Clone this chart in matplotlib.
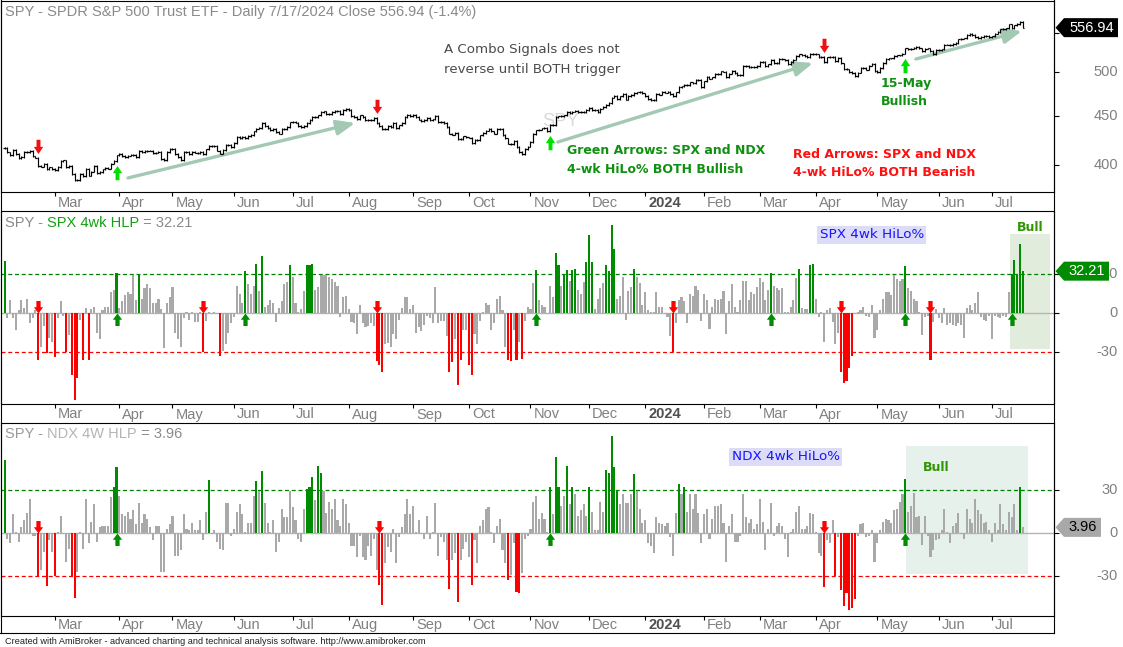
import numpy as np
import pandas as pd
import matplotlib
matplotlib.use("Agg")
import matplotlib.pyplot as plt
from matplotlib.path import Path
from matplotlib.markers import MarkerStyle
from matplotlib.collections import LineCollection
from matplotlib.patches import Polygon, Rectangle
from matplotlib.lines import Line2D
import matplotlib.transforms as mtransforms
from matplotlib.ticker import NullLocator, FixedLocator

plt.rcParams['font.family'] = ['Liberation Sans', 'DejaVu Sans']

W, H, DPI = 1123, 647, 100

# ---------------- data ----------------
nyse_holidays = ['2023-02-20', '2023-04-07', '2023-05-29', '2023-06-19', '2023-07-04',
                 '2023-09-04', '2023-11-23', '2023-12-25', '2024-01-01', '2024-01-15',
                 '2024-02-19', '2024-03-29', '2024-05-27', '2024-06-19', '2024-07-04']
dates = pd.bdate_range('2023-02-02', '2024-07-17', freq='C', holidays=nyse_holidays)

spy_close = [
    # Feb 2023
    416.78, 412.35, 409.83, 415.19, 410.65, 407.09, 408.04, 412.83, 412.64, 413.98,
    408.28, 407.26, 399.09, 398.54, 400.66, 396.38, 397.73, 396.26,
    # Mar 2023
    394.74, 397.81, 404.19, 404.47, 398.27, 398.92, 391.56, 385.91, 385.36, 391.73,
    389.28, 396.11, 389.99, 393.74, 398.91, 392.11, 393.17, 395.75, 397.52, 396.49,
    401.35, 403.70, 409.39,
    # Apr 2023
    410.95, 408.67, 407.60, 409.19, 409.61, 409.72, 408.05, 413.47, 412.46, 413.94,
    414.21, 414.14, 411.88, 412.20, 412.63, 406.08, 404.36, 412.41, 415.93,
    # May 2023
    415.51, 410.84, 408.02, 405.13, 412.63, 412.87, 410.93, 412.85, 412.13, 411.59,
    413.01, 410.62, 415.24, 419.23, 418.62, 418.79, 414.09, 411.09, 414.65, 420.02,
    420.18, 417.85,
    # Jun 2023
    421.82, 427.92, 427.10, 428.03, 426.55, 429.13, 429.90, 433.80, 436.66, 437.18,
    442.60, 439.46, 437.18, 434.94, 436.51, 433.21, 431.44, 436.17, 436.39, 438.11,
    443.28,
    # Jul 2023
    443.79, 443.13, 439.66, 438.55, 439.66, 442.46, 446.02, 449.56, 449.28, 450.84,
    454.19, 455.20, 452.18, 452.18, 454.20, 455.44, 455.51, 452.49, 456.92, 457.79,
    # Aug 2023
    456.48, 450.13, 448.84, 446.81, 450.71, 448.75, 445.75, 445.91, 445.65, 448.11,
    442.89, 439.64, 436.29, 436.50, 439.34, 438.15, 443.03, 436.89, 439.97, 442.76,
    449.16, 451.01, 450.35,
    # Sep 2023
    451.19, 449.24, 446.22, 444.85, 445.52, 448.45, 445.99, 446.51, 450.36, 443.37,
    443.63, 442.71, 438.64, 431.39, 430.42, 432.23, 425.88, 426.05, 428.52, 427.48,
    # Oct 2023
    427.31, 421.59, 424.66, 424.50, 429.54, 432.29, 434.54, 436.32, 433.66, 431.50,
    436.04, 436.02, 430.21, 426.43, 421.19, 420.46, 423.63, 417.55, 412.55, 410.68,
    415.59, 418.20,
    # Nov 2023
    422.66, 430.76, 434.69, 435.69, 436.93, 437.25, 433.84, 440.61, 440.19, 448.73,
    449.68, 450.23, 450.79, 454.26, 453.27, 455.02, 455.30, 454.48, 454.93, 454.61,
    456.40,
    # Dec 2023
    459.10, 456.69, 456.60, 454.76, 458.23, 460.20, 461.99, 464.10, 470.50, 472.01,
    469.33, 471.97, 474.84, 468.26, 472.70, 473.65, 475.65, 476.51, 476.69, 475.31,
    # Jan 2024
    472.65, 468.79, 467.28, 467.92, 474.60, 473.88, 476.56, 476.35, 476.68, 474.93,
    472.29, 476.49, 482.43, 483.45, 484.86, 485.39, 488.03, 487.41, 491.27, 490.89,
    482.88,
    # Feb 2024
    489.20, 494.35, 492.55, 493.98, 498.10, 498.32, 501.20, 500.98, 494.08, 498.57,
    502.01, 499.51, 496.76, 497.21, 507.50, 507.85, 505.99, 506.93, 506.26, 508.08,
    # Mar 2024
    512.85, 512.30, 507.18, 509.75, 514.81, 511.72, 511.28, 516.78, 515.97, 514.95,
    509.83, 512.86, 515.71, 520.48, 522.20, 521.21, 519.77, 518.81, 523.17, 523.07,
    # Apr 2024
    522.16, 518.84, 519.41, 513.07, 518.43, 518.72, 519.32, 514.12, 518.00, 510.85,
    504.45, 503.53, 500.55, 499.52, 495.16, 499.72, 505.65, 505.41, 503.49, 508.26,
    510.06, 501.98,
    # May 2024
    500.35, 505.03, 511.29, 516.78, 517.14, 517.19, 520.17, 520.84, 520.91, 523.30,
    529.78, 528.69, 529.45, 530.06, 531.36, 529.83, 525.96, 529.44, 529.81, 526.10,
    522.61, 527.37,
    # Jun 2024
    527.80, 528.39, 534.67, 534.66, 534.01, 535.66, 536.95, 541.36, 542.45, 542.78,
    547.10, 548.49, 547.00, 544.51, 542.74, 544.83, 545.51, 546.37, 544.22,
    # Jul 2024
    545.34, 549.01, 551.46, 554.64, 555.28, 555.82, 561.32, 556.48, 559.99, 561.53,
    564.86, 556.94,
]

spx_hlp = [
    40, -4, 10, -4, -13, 2, 10, 4, 11, -8,
    -4, 2, -36, -26, -10, -31, -19, -22, -34, -4,
    9, -2, -30, -17, -48, -67, -50, -5, -36, 4,
    -36, 3, 5, -15, -20, 2, 5, 5, 16, 18,
    31, 4, 9, 14, 16, 15, 29, 10, 30, 11,
    19, 22, 19, 8, 8, 11, 3, -27, 8, 12,
    20, -15, -20, -26, -4, 1, -5, 1, -7, -7,
    1, -30, -6, 1, -1, 1, -1, -33, -29, -24,
    -15, -8, -3, 21, 15, 8, 32, 22, 15, 21,
    38, 17, 44, 5, 6, 10, 8, -7, 4, 9,
    22, 24, 37, 28, 8, 1, 3, 17, 37, 37,
    38, 18, 20, 29, 29, 29, 28, 26, 24, 21,
    -3, 12, 13, 3, -7, -8, -16, 6, -8, -11,
    -10, -8, -10, -37, -40, -45, -24, -23, -26, -16,
    -20, -5, 4, 12, 12, 3, 6, -15, -11, -14,
    -9, -2, -4, -8, 20, -8, -6, -6, -18, -45,
    -38, -20, -55, -36, -13, -13, -40, -48, -16, -24,
    -6, 1, 8, 6, -13, -8, 11, 13, 2, -26,
    -36, -37, -13, -36, -22, -35, -6, 5, 3, 23,
    33, 10, 6, 5, -1, 21, 12, 46, 37, 21,
    30, 33, 25, 33, 34, 18, 15, 24, 39, 60,
    39, 3, 11, 19, 23, 37, 32, 68, 49, 11,
    13, 28, -5, 17, 20, 34, 28, 23, 6, 16,
    2, 1, 1, 16, 5, 5, -1, -3, -18, -30,
    -8, 10, 12, 9, -8, 15, 13, 21, 18, -6,
    15, 10, -12, 5, 11, 10, 11, 17, -16, 9,
    22, 5, 1, 10, 25, 25, 10, 16, 15, 20,
    27, 24, 10, 18, 31, 21, 19, 18, 19, 1,
    1, 5, 10, 27, 34, 4, 3, 3, 37, 38,
    11, -3, 1, -22, 2, 4, -7, -24, -15, -45,
    -54, -52, -42, -33, -1, 1, 2, 5, -2, -3,
    6, -19, -13, 2, 11, 16, 16, 14, 29, 26,
    25, 26, 36, 19, 17, 11, 9, 1, -17, -3,
    -2, -36, -7, 3, -4, -8, 4, -9, -8, -9,
    -10, -8, -9, -19, 4, 6, 2, 8, 16, -3,
    -5, -6, -2, -20, -2, -3, -4, -2, -3, 16,
    30, 41, 30, 53, 32.21,
]

ndx_hlp = [
    51, -4, -7, 13, 1, -6, 4, 9, 14, 24,
    -2, -2, -31, -26, -13, -37, -5, -13, -30, 1,
    12, -1, -20, -11, -30, -45, -27, 1, -11, 24,
    -7, 8, 20, -6, 4, 5, 5, 5, 25, 32,
    46, 26, 13, 12, 15, 10, 16, 6, 21, 7,
    13, 10, 4, -5, 5, 5, -27, -27, 3, 6,
    12, -16, -16, -12, 13, 3, 2, 7, 2, 2,
    9, -5, 15, 37, -1, 2, -6, -11, -12, 21,
    21, -2, 3, 15, 20, 13, 1, 7, 7, 26,
    36, 29, 43, 21, 7, 1, 9, -13, -6, 17,
    11, 11, 29, 18, 9, -4, -6, 17, 31, 32,
    39, 23, 47, 42, 29, 14, 22, 17, 24, 9,
    5, 24, 20, 7, -9, -9, -17, -2, -17, -19,
    -9, -16, -4, -26, -36, -50, -21, -10, -13, 3,
    -21, -3, 4, 13, 24, 13, 19, 1, 9, -1,
    -4, 12, -4, 1, 21, -16, -3, -6, -19, -39,
    -19, -14, -48, -19, -11, -6, -17, -36, -5, -21,
    5, 9, 17, 18, 1, -7, 5, 10, -12, -21,
    -33, -29, -7, -41, -42, -28, -4, -2, 3, 22,
    26, 10, 14, 10, 1, 32, 13, 53, 32, 19,
    26, 47, 20, 32, 27, 12, 16, 20, 12, 32,
    15, 2, 2, 22, 15, 44, 42, 68, 46, 30,
    20, 27, 21, 21, 27, 41, 29, 17, 7, 9,
    -7, -9, -14, 11, 7, 6, 5, 7, -3, -16,
    14, 34, 27, 32, 15, 27, 17, 27, 14, -7,
    13, 17, -4, 10, 19, 19, 20, 7, -20, 5,
    13, -6, -6, -2, 27, 11, 7, 10, 3, 6,
    24, 8, -12, 3, 21, -2, 5, 7, 5, -4,
    -17, 1, 3, 15, 19, 3, 3, 5, 14, 13,
    1, -14, -16, -38, -5, -7, 9, -30, -3, -40,
    -51, -42, -54, -52, -46, -2, 6, 7, -3, -2,
    2, -20, -7, 2, 8, 10, 9, 7, 16, 17,
    22, 27, 38, 15, 19, 28, 11, 12, -8, 12,
    -2, -17, -12, -5, -4, 2, 17, 1, -7, 5,
    7, 14, -1, -4, 17, 10, 7, 24, 16, 13,
    7, 8, 2, -6, 7, 2, 20, 6, 2, 15,
    11, 20, 2, 32, 3.96,
]

price_ticks = [400, 450, 500, 550]
hlp_ticks = [-30, 0, 30]
combo_bear_bars = [12, 133, 293]
combo_bull_bars = [40, 195, 322]
spx_bear_bars = [12, 71, 133, 239, 299, 331]
spx_bull_bars = [40, 86, 190, 274, 322, 360]
ndx_bear_bars = [12, 134, 293]
ndx_bull_bars = [40, 195, 322]
# trend arrows (bar index, price) start -> end
trend_arrows = [(44.1, 387.7, 125.3, 442.6),
                (197.8, 422.8, 289.0, 511.4),
                (325.8, 516.4, 363.7, 552.4)]
# bull zones (x0, x1, y0, y1)
spx_bull_zone = (359.4, 373.7, -27.7, 61)
ndx_bull_zone = (322.3, 365.9, -28.6, 61)

# ---------------- styles ----------------
GRAY_BAR = '#a9a9a9'
GREEN = '#008c00'
RED = '#ff0000'
AXIS_TXT = '#808080'

n = len(spy_close)
x = np.arange(n)
XL = (-1.305, 375.17)

fig = plt.figure(figsize=(W / DPI, H / DPI), dpi=DPI)
fig.patch.set_facecolor('white')


def add_ax(top, bottom):
    return fig.add_axes([1 / W, 1 - bottom / H, 1053 / W, (bottom - top) / H])


def F(px, py):
    return px / W, 1 - py / H


ax1 = add_ax(0.5, 192)
ax2 = add_ax(211, 403.5)
ax3 = add_ax(423, 616)

month_idx = [i for i in range(1, n) if dates[i].month != dates[i - 1].month]
month_lab = [('%d' % dates[i].year) if dates[i].month == 1 else dates[i].strftime('%b')
             for i in month_idx]

for ax in (ax1, ax2, ax3):
    ax.set_xlim(*XL)
    for s in ax.spines.values():
        s.set_linewidth(0.8)
        s.set_color('black')
    ax.set_xticks(month_idx)
    ax.tick_params(axis='x', which='both', bottom=True, top=False, labelbottom=False,
                   direction='out', length=3.2, width=0.8)
    ax.tick_params(axis='y', which='both', left=False, right=True, labelleft=False,
                   labelright=False, direction='out', length=3.6, width=0.8)

# ---- price panel ----
ax1.set_yscale('log')
ax1.set_ylim(374.8, 594.6)
ax1.yaxis.set_major_locator(FixedLocator(price_ticks))
ax1.yaxis.set_minor_locator(NullLocator())
close = np.array(spy_close)
opn = np.r_[close[0], close[:-1]]
lo = np.minimum(opn, close)
hi = np.maximum(opn, close)
segs = []
for i in range(n):
    segs.append([(i, lo[i] * 0.998), (i, hi[i] * 1.002)])
    segs.append([(i - 0.6, opn[i]), (i, opn[i])])
    segs.append([(i, close[i]), (i + 0.6, close[i])])
ax1.add_collection(LineCollection(segs, colors='black', linewidths=0.85, zorder=3,
                                  antialiaseds=True, capstyle='butt'))

for (x0, p0, x1, p1) in trend_arrows:
    ax1.annotate('', xy=(x1, p1), xytext=(x0, p0),
                 arrowprops=dict(arrowstyle='-|>,head_length=1.1,head_width=0.45',
                                 color='#a3c9b3', lw=2.4, shrinkA=0, shrinkB=0),
                 zorder=2, annotation_clip=False)


def arrow_path(up, g, hh, hw, sw):
    s = 1 if up else -1
    v = [(0, -g), (hw, -g - hh), (sw, -g - hh), (sw, -1), (-sw, -1),
         (-sw, -g - hh), (-hw, -g - hh), (0, -g)]
    v = [(a, s * b) for a, b in v]
    codes = [Path.MOVETO] + [Path.LINETO] * 6 + [Path.CLOSEPOLY]
    return MarkerStyle(Path(v, codes))


price_up = arrow_path(True, 0.24, 0.38, 0.25, 0.105)
price_dn = arrow_path(False, 0.24, 0.38, 0.25, 0.105)
ax1.plot(combo_bull_bars, lo[combo_bull_bars], ls='none', marker=price_up, ms=27,
         mfc='#00e000', mec='none', mew=0, zorder=4)
ax1.plot(combo_bear_bars, hi[combo_bear_bars], ls='none', marker=price_dn, ms=27,
         mfc='#ee1111', mec='none', mew=0, zorder=4)

# ---- HiLo panels ----
sub_up = arrow_path(True, 0.0, 0.5, 0.37, 0.17)
sub_dn = arrow_path(False, 0.0, 0.5, 0.37, 0.17)


def hlp_panel(ax, vals, ylim, zone, zcol, bull_bars, bear_bars):
    ax.set_ylim(*ylim)
    ax.yaxis.set_major_locator(FixedLocator(hlp_ticks))
    ax.yaxis.set_minor_locator(NullLocator())
    z0, z1, zy0, zy1 = zone
    ax.add_patch(Rectangle((z0, zy0), z1 - z0, zy1 - zy0, fc=zcol, ec='none', zorder=0.5))
    ax.axhline(30, color='#008000', lw=0.9, ls=(0, (3.2, 2.2)), zorder=1)
    ax.axhline(-30, color='#ff0000', lw=0.9, ls=(0, (3.2, 2.2)), zorder=1)
    ax.axhline(0, color='#b4b4b4', lw=1.0, zorder=1)
    cols = [GREEN if v >= 30 else RED if v <= -30 else GRAY_BAR for v in vals]
    ax.bar(x, vals, width=0.75, color=cols, linewidth=0, zorder=2, antialiased=False)
    ax.plot(bull_bars, [0] * len(bull_bars), ls='none', marker=sub_up, ms=18,
            mfc=GREEN, mec='none', mew=0, zorder=4)
    ax.plot(bear_bars, [0] * len(bear_bars), ls='none', marker=sub_dn, ms=18,
            mfc=RED, mec='none', mew=0, zorder=4)


hlp_panel(ax2, spx_hlp, (-69.6, 78.5), spx_bull_zone, '#e1ecdc', spx_bull_bars, spx_bear_bars)
hlp_panel(ax3, ndx_hlp, (-57.9, 76.8), ndx_bull_zone, '#e7f1eb', ndx_bull_bars, ndx_bear_bars)

# ---- axis labels (right) ----
for ax, ticks in ((ax1, price_ticks), (ax2, hlp_ticks), (ax3, hlp_ticks)):
    tr = mtransforms.offset_copy(ax.get_yaxis_transform(), fig=fig, x=64, y=0, units='dots')
    for t in ticks:
        ax.text(1.0, t, '%d' % t, transform=tr, ha='right', va='center', fontsize=10.5,
                color=AXIS_TXT, clip_on=False, zorder=1)

# ---- month labels ----
for ax, dy in ((ax1, -15), (ax2, -15), (ax3, -13)):
    tr = mtransforms.offset_copy(ax.get_xaxis_transform(), fig=fig, x=3, y=dy, units='dots')
    for mi, lab in zip(month_idx, month_lab):
        bold = lab.isdigit()
        ax.text(mi, 0, lab, transform=tr, ha='left', va='baseline', fontsize=10.5,
                color='#505050' if bold else AXIS_TXT, fontweight='bold' if bold else 'normal',
                clip_on=False)

# frame lines
fig.add_artist(Line2D([0.5 / W, 0.5 / W], [1 - 0 / H, 1 - 633 / H], color='black', lw=0.8,
                      transform=fig.transFigure))
fig.add_artist(Line2D([1054 / W, 1054 / W], [1 - 0 / H, 1 - 633 / H], color='black', lw=0.8,
                      transform=fig.transFigure))
fig.add_artist(Line2D([0, 1054 / W], [1 - 633 / H, 1 - 633 / H], color='black', lw=0.8,
                      transform=fig.transFigure))

# ---- titles ----
fig.text(*F(5, 16), 'SPY - SPDR S&P 500 Trust ETF - Daily 7/17/2024 Close 556.94 (-1.4%)',
         fontsize=10.5, color='#8a8a8a', va='baseline')

renderer = fig.canvas.get_renderer()


def multi_text(px, py, parts):
    cx = px
    for s, c in parts:
        t = fig.text(*F(cx, py), s, fontsize=10.5, color=c, va='baseline')
        cx += t.get_window_extent(renderer).width


multi_text(5, 227, [('SPY - ', '#8a8a8a'), ('SPX 4wk HLP', '#10a010'), (' = 32.21', '#8a8a8a')])
multi_text(5, 438, [('SPY - ', '#999999'), ('NDX 4W HLP', '#b4b4b4'), (' = 3.96', '#8a8a8a')])

fig.text(*F(5, 644.5), 'Created with AmiBroker - advanced charting and technical analysis '
         'software. http://www.amibroker.com', fontsize=6.6, color='#202020', va='baseline')

# ---- annotations in price panel ----
TF = fig.transFigure
ax1.text(*F(542, 126.5), 'SPY', transform=TF, fontsize=13.2, color='#dadada',
         va='baseline', zorder=0.5)
ANN = dict(transform=TF, va='baseline', family='DejaVu Sans', zorder=5)
ax1.text(*F(444, 53.3), 'A Combo Signals does not', fontsize=9.6, color='#4a4a4a', **ANN)
ax1.text(*F(444, 72.5), 'reverse until BOTH trigger', fontsize=9.6, color='#4a4a4a', **ANN)
ax1.text(*F(567, 154), 'Green Arrows: SPX and NDX', fontsize=9, fontweight='bold',
         color='#109010', **ANN)
ax1.text(*F(567, 172.7), '4-wk HiLo% BOTH Bullish', fontsize=9, fontweight='bold',
         color='#109010', **ANN)
ax1.text(*F(793, 158), 'Red Arrows: SPX and NDX', fontsize=9, fontweight='bold',
         color='#ff1010', **ANN)
ax1.text(*F(793, 176.3), '4-wk HiLo% BOTH Bearish', fontsize=9, fontweight='bold',
         color='#ff1010', **ANN)
ax1.text(*F(880.7, 87.3), '15-May', fontsize=9, fontweight='bold', color='#109010', **ANN)
ax1.text(*F(880.7, 105), 'Bullish', fontsize=9, fontweight='bold', color='#109010', **ANN)

# sub-panel labels
for ax, cx, cy, s in ((ax2, 871.7, 234.7, 'SPX 4wk HiLo%'), (ax3, 785.7, 456.7, 'NDX 4wk HiLo%')):
    ax.text(*F(cx, cy), s, transform=TF, ha='center', va='center', family='DejaVu Sans',
            fontsize=9.7, color='#1414ff', zorder=5,
            bbox=dict(boxstyle='square,pad=0.18', fc='#dcdcf8', ec='none'))
ax2.text(*F(1016.7, 231), 'Bull', transform=TF, va='baseline', family='DejaVu Sans',
         fontsize=9, fontweight='bold', color='#2e9600', zorder=5)
ax3.text(*F(922.7, 471.3), 'Bull', transform=TF, va='baseline', family='DejaVu Sans',
         fontsize=9, fontweight='bold', color='#2e9600', zorder=5)


# ---- value flags ----
def flag(ax, val, text, fc, tc, right_px):
    yc = ax.transData.transform((0, val))[1]
    hh = 9.5
    verts = [(1055.5, yc), (1064, yc + hh), (right_px, yc + hh), (right_px, yc - hh),
             (1064, yc - hh)]
    verts = [(a / W, b / H) for a, b in verts]
    fig.add_artist(Polygon(verts, closed=True, transform=fig.transFigure, fc=fc, ec='none',
                           zorder=5))
    fig.text((1064 + right_px) / 2 / W + 0.5 / W, yc / H, text, ha='center', va='center',
             fontsize=10.5, color=tc, zorder=6)


flag(ax1, spy_close[-1], '%.2f' % spy_close[-1], 'black', 'white', 1118)
flag(ax2, spx_hlp[-1], '%.2f' % spx_hlp[-1], GREEN, 'white', 1109)
flag(ax3, ndx_hlp[-1], '%.2f' % ndx_hlp[-1], '#a8a8a8', 'black', 1101)

fig.savefig('out.png', dpi=DPI, facecolor='white')
